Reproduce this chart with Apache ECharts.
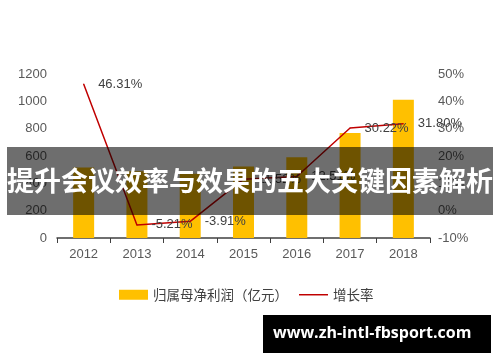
<!DOCTYPE html>
<html>
<head>
<meta charset="utf-8">
<script src="https://cdn.jsdelivr.net/npm/echarts@6/dist/echarts.min.js"></script>
<style>html,body{margin:0;padding:0;background:#fff}#c{width:500px;height:362px}</style>
</head>
<body>
<div id="c"></div>
<script>
var categories = ['2012','2013','2014','2015','2016','2017','2018'];
var profit = [516, 489, 470, 524, 590, 768, 1012];
var growth = [46.31, -5.21, -3.91, 11.52, 12.51, 30.22, 31.80];
var leftTicks = {min: 0, max: 1200, interval: 200};
var rightTicks = {min: -10, max: 50, interval: 10};
var barName = '归属母净利润（亿元）';
var lineName = '增长率';
var bannerText = '提升会议效率与效果的五大关键因素解析';
var watermark = 'www.zh-intl-fbsport.com';

var chart = echarts.init(document.getElementById('c'));
var axisLabelStyle = {color: '#595959', fontSize: 13, fontFamily: 'Liberation Sans, Arial, sans-serif'};
chart.setOption({
  animation: false,
  grid: {left: 57, right: 70, top: 74, bottom: 124},
  legend: {
    top: 283, left: 114,
    itemWidth: 29, itemHeight: 10, itemGap: 11,
    textStyle: {color: '#404040', fontSize: 13.5, fontFamily: 'Noto Sans CJK SC'},
    data: [
      {name: barName, icon: 'rect'},
      {name: lineName, icon: 'path://M0,0h60v3h-60z'}
    ]
  },
  xAxis: {
    type: 'category', data: categories,
    axisLine: {lineStyle: {color: '#404040', width: 1.5}},
    axisTick: {show: true, length: 5, lineStyle: {color: '#404040'}},
    axisLabel: Object.assign({margin: 10}, axisLabelStyle)
  },
  yAxis: [
    Object.assign({type: 'value', splitLine: {show: false}, axisLine: {show: false}, axisTick: {show: false},
      axisLabel: Object.assign({margin: 10, formatter: function (v) { return String(v); }}, axisLabelStyle)}, leftTicks),
    Object.assign({type: 'value', splitLine: {show: false}, axisLine: {show: false}, axisTick: {show: false},
      axisLabel: Object.assign({margin: 8, formatter: function (v) { return v + '%'; }}, axisLabelStyle)}, rightTicks)
  ],
  series: [
    {name: barName, type: 'bar', data: profit, barWidth: 21, itemStyle: {color: '#FFC000'}},
    {name: lineName, type: 'line', yAxisIndex: 1, data: growth,
      symbol: 'circle', symbolSize: 1, showSymbol: true,
      itemStyle: {color: '#C00000'},
      lineStyle: {color: '#C00000', width: 1.5},
      label: {show: true, position: 'right', distance: 14, color: '#404040', fontSize: 13,
        fontFamily: 'Liberation Sans, Arial, sans-serif',
        formatter: function (p) { return p.value.toFixed(2) + '%'; }}
    }
  ],
  graphic: [
    {type: 'rect', left: 7, top: 147, shape: {width: 486, height: 68}, style: {fill: 'rgba(0,0,0,0.57)'}, z: 100},
    {type: 'text', left: 'center', top: 167, style: {text: bannerText, fill: '#fff',
      font: 'bold 27px "Noto Sans CJK SC"'}, z: 101},
    {type: 'rect', left: 263, top: 315, shape: {width: 228, height: 38}, style: {fill: '#000'}, z: 100},
    {type: 'text', left: 273, top: 325, style: {text: watermark, fill: '#fff',
      font: 'bold 16px "Open Sans"'}, z: 101}
  ]
});
</script>
</body>
</html>
